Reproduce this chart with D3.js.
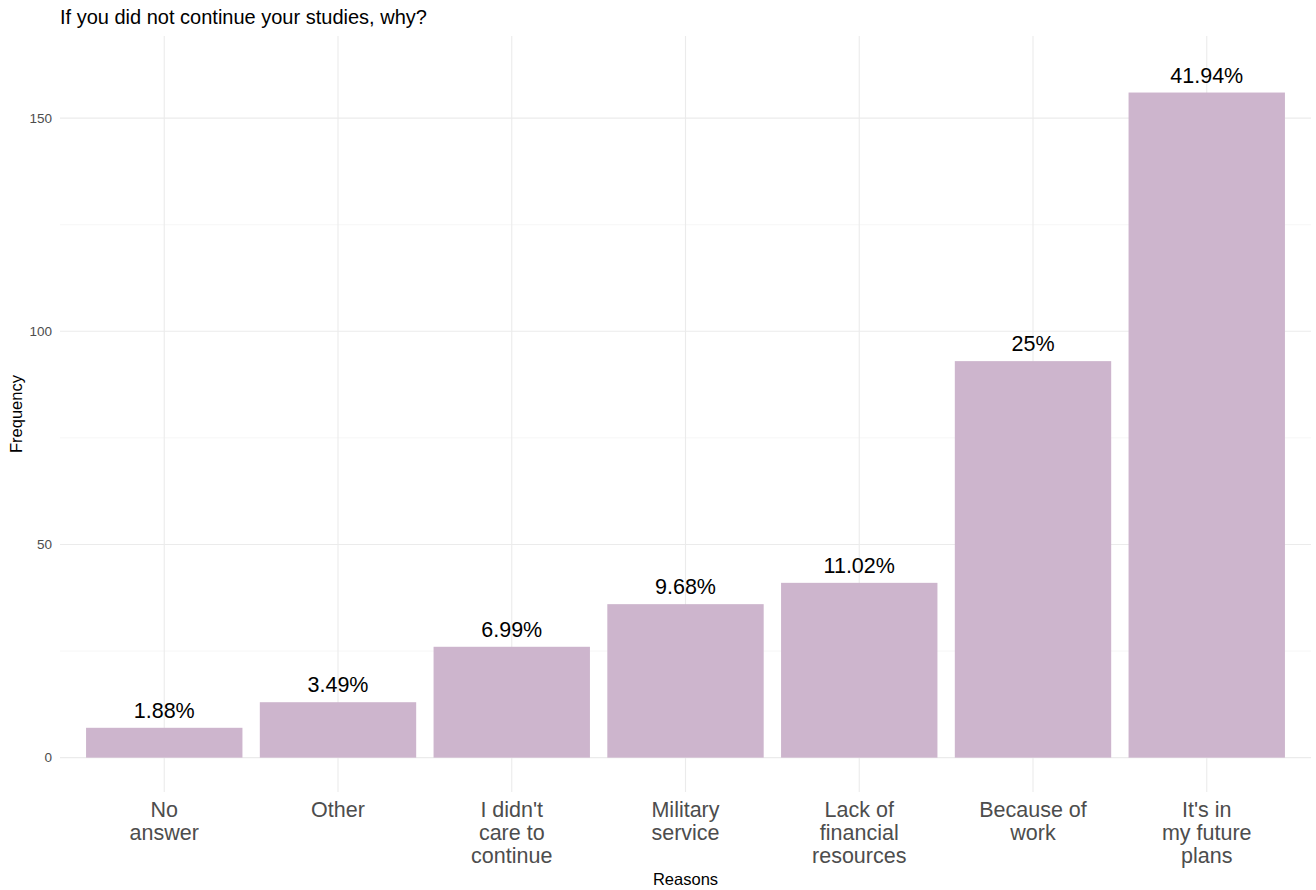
<!DOCTYPE html>
<html>
<head>
<meta charset="utf-8">
<script src="https://cdn.jsdelivr.net/npm/d3@7"></script>
<style>
  html, body { margin: 0; padding: 0; background: #fff; }
  svg { display: block; font-family: "Liberation Sans", Arial, sans-serif; }
</style>
</head>
<body>
<svg id="chart" width="1316" height="890"></svg>
<script>
const categories = ["No answer", "Other", "I didn't care to continue", "Military service", "Lack of financial resources", "Because of work", "It's in my future plans"];
const categoryLines = [["No", "answer"], ["Other"], ["I didn't", "care to", "continue"], ["Military", "service"], ["Lack of", "financial", "resources"], ["Because of", "work"], ["It's in", "my future", "plans"]];
const frequencies = [7, 13, 26, 36, 41, 93, 156];
const percentLabels = ["1.88%", "3.49%", "6.99%", "9.68%", "11.02%", "25%", "41.94%"];
const yTicks = [0, 50, 100, 150];
const yMinorTicks = [25, 75, 125];

const svg = d3.select("#chart");
const panel = { left: 60, right: 1311, top: 36, bottom: 792 };

// ggplot-style discrete scale: 0.6 step expansion each side; bar width 0.9 step
const x = d3.scalePoint()
  .domain(categories)
  .range([panel.left, panel.right])
  .padding(0.6);
const barW = x.step() * 0.9;

const y = d3.scaleLinear().domain([-8.06, 169.26]).range([panel.bottom, panel.top]);

const grid = svg.append("g");
grid.selectAll("line.minor").data(yMinorTicks).join("line")
  .attr("x1", panel.left).attr("x2", panel.right)
  .attr("y1", d => y(d)).attr("y2", d => y(d))
  .attr("stroke", "#f0f0f0").attr("stroke-width", 0.6);
grid.selectAll("line.major").data(yTicks).join("line")
  .attr("x1", panel.left).attr("x2", panel.right)
  .attr("y1", d => y(d)).attr("y2", d => y(d))
  .attr("stroke", "#ebebeb").attr("stroke-width", 1.1);
grid.selectAll("line.vx").data(categories).join("line")
  .attr("x1", d => x(d)).attr("x2", d => x(d))
  .attr("y1", panel.top).attr("y2", panel.bottom)
  .attr("stroke", "#ebebeb").attr("stroke-width", 1.1);

svg.append("g").selectAll("rect").data(categories).join("rect")
  .attr("x", d => x(d) - barW / 2)
  .attr("width", barW)
  .attr("y", (d, i) => y(frequencies[i]))
  .attr("height", (d, i) => y(0) - y(frequencies[i]))
  .attr("fill", "#CDB5CD");

svg.append("g").selectAll("text").data(categories).join("text")
  .attr("x", d => x(d))
  .attr("y", (d, i) => y(frequencies[i]) - 10)
  .attr("text-anchor", "middle")
  .attr("font-size", 21.5)
  .attr("fill", "#000")
  .text((d, i) => percentLabels[i]);

// y axis labels
svg.append("g").selectAll("text").data(yTicks).join("text")
  .attr("x", 52)
  .attr("y", d => y(d))
  .attr("dy", "0.35em")
  .attr("text-anchor", "end")
  .attr("font-size", 13.5)
  .attr("fill", "#4d4d4d")
  .text(d => d);

// x axis labels
const xl = svg.append("g").selectAll("text").data(categories).join("text")
  .attr("text-anchor", "middle")
  .attr("font-size", 21.5)
  .attr("fill", "#4d4d4d");
xl.each(function(d, i) {
  const t = d3.select(this);
  categoryLines[i].forEach((line, j) => {
    t.append("tspan").attr("x", x(d)).attr("y", 817 + j * 23).text(line);
  });
});

svg.append("text")
  .attr("x", (panel.left + panel.right) / 2)
  .attr("y", 885)
  .attr("text-anchor", "middle")
  .attr("font-size", 16.5)
  .attr("fill", "#000")
  .text("Reasons");

svg.append("text")
  .attr("transform", `translate(22, ${(panel.top + panel.bottom) / 2}) rotate(-90)`)
  .attr("text-anchor", "middle")
  .attr("font-size", 16.5)
  .attr("fill", "#000")
  .text("Frequency");

svg.append("text")
  .attr("x", 60)
  .attr("y", 24)
  .attr("font-size", 20)
  .attr("fill", "#000")
  .text("If you did not continue your studies, why?");
</script>
</body>
</html>
